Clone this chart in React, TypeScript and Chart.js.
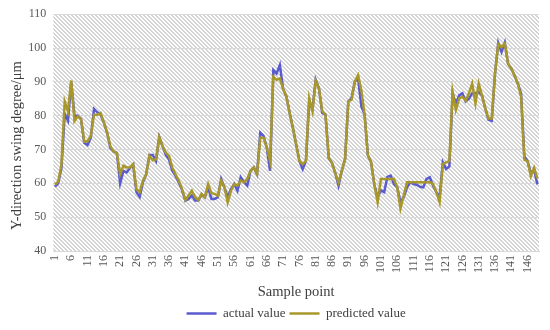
import React, { useEffect, useRef } from "react";
import { Chart, registerables } from "chart.js";

Chart.register(...registerables);

const FONT = "'Liberation Serif', 'Times New Roman', serif";

// sample indices 1..149
const sampleLabels: string[] = Array.from({ length: 149 }, (_, i) => String(i + 1));

const actualValues: number[] = [
  59.0, 60.0, 64.5, 80.5, 78.5, 90.0, 80.0, 80.0, 79.0, 72.0,
  71.3, 73.5, 82.0, 81.0, 80.3, 78.0, 75.0, 70.5, 69.4, 69.0,
  60.0, 63.7, 63.2, 64.5, 65.5, 57.4, 56.0, 60.3, 62.7, 68.4,
  68.4, 66.6, 73.7, 71.0, 68.5, 67.0, 63.7, 62.2, 60.3, 58.0,
  54.9, 55.4, 56.4, 54.9, 54.9, 56.7, 55.9, 58.8, 55.4, 55.4,
  55.9, 61.3, 58.8, 55.9, 58.3, 59.8, 57.8, 61.8, 60.3, 59.3,
  63.7, 64.7, 62.7, 75.0, 74.0, 70.5, 63.7, 93.5, 92.5, 95.0,
  87.9, 85.7, 80.8, 76.4, 71.5, 66.6, 64.2, 66.6, 84.2, 81.8,
  90.6, 88.1, 80.8, 80.3, 67.5, 66.0, 63.0, 59.3, 63.7, 67.1,
  84.2, 85.2, 90.1, 91.0, 82.8, 80.3, 68.3, 66.2, 59.5, 55.9,
  57.9, 57.4, 61.9, 62.3, 59.8, 58.8, 54.4, 55.9, 58.8, 60.3,
  59.8, 59.6, 59.0, 58.8, 61.3, 61.8, 59.3, 57.4, 55.9, 66.2,
  64.2, 65.0, 86.5, 83.6, 86.0, 86.6, 84.2, 85.0, 86.6, 86.6,
  87.0, 86.0, 82.2, 78.8, 78.5, 92.4, 101.5, 98.8, 101.6, 95.4,
  93.9, 91.9, 89.5, 86.6, 68.0, 66.5, 63.0, 64.0, 59.7,
];

const predictedValues: number[] = [
  59.6, 60.5, 65.5, 84.2, 81.3, 90.4, 78.4, 79.8, 79.0, 72.3,
  72.5, 74.0, 80.3, 80.3, 80.8, 78.0, 75.0, 71.0, 69.4, 69.0,
  62.7, 65.2, 64.7, 64.7, 65.7, 58.3, 57.4, 60.8, 62.7, 68.1,
  66.8, 67.1, 73.7, 71.0, 69.1, 68.1, 64.7, 62.7, 60.8, 58.3,
  55.1, 56.4, 57.8, 55.9, 55.1, 56.9, 55.9, 59.8, 57.1, 56.9,
  56.4, 60.8, 58.8, 54.4, 57.8, 59.8, 59.3, 60.8, 60.3, 61.3,
  63.7, 64.7, 62.7, 73.5, 73.5, 70.5, 66.6, 91.5, 90.6, 91.0,
  87.9, 85.7, 80.8, 76.4, 71.5, 66.6, 65.7, 66.6, 85.2, 81.3,
  90.4, 88.1, 81.3, 80.3, 67.5, 66.0, 63.0, 60.3, 63.7, 67.1,
  84.2, 84.7, 90.1, 92.0, 87.5, 80.3, 68.3, 66.2, 59.5, 54.4,
  61.3, 61.3, 61.3, 61.3, 61.3, 58.8, 52.5, 56.4, 60.3, 60.3,
  60.3, 60.3, 60.3, 60.3, 60.3, 60.3, 59.8, 57.4, 54.4, 65.7,
  66.2, 66.6, 87.1, 81.7, 85.1, 85.6, 84.4, 86.6, 89.5, 83.6,
  89.5, 86.0, 82.2, 79.2, 79.2, 92.4, 101.2, 100.2, 101.4, 95.4,
  93.9, 91.9, 89.5, 85.6, 67.0, 66.5, 62.1, 64.6, 61.5,
];

const Y_MIN = 40;
const Y_MAX = 110;
const Y_STEP = 10;
const LABEL_EVERY = 5;

const hatchPlugin = {
  id: "hatchBackground",
  beforeDraw(chart: any) {
    const { ctx, chartArea } = chart;
    if (!chartArea) return;
    const tile = document.createElement("canvas");
    tile.width = 4;
    tile.height = 4;
    const tc = tile.getContext("2d")!;
    tc.fillStyle = "#ffffff";
    tc.fillRect(0, 0, 4, 4);
    tc.fillStyle = "#d3d3d3";
    for (let i = 0; i < 4; i++) {
      tc.fillRect(i, i, 1, 1);
      tc.fillRect((i + 1) % 4, i, 1, 1);
    }
    const pattern = ctx.createPattern(tile, "repeat");
    ctx.save();
    ctx.fillStyle = pattern;
    ctx.fillRect(
      chartArea.left,
      chartArea.top,
      chartArea.right - chartArea.left,
      chartArea.bottom - chartArea.top
    );
    ctx.restore();
  },
};

// shift the y-axis title a little downwards along the axis, as in the reference
const yTitleShiftPlugin = {
  id: "yTitleShift",
  afterLayout(chart: any) {
    const s = chart.scales.y;
    if (!s || s.__shifted) return;
    const orig = s.drawTitle.bind(s);
    s.drawTitle = function () {
      const t = this.top;
      const b = this.bottom;
      this.top = t + 13;
      this.bottom = b + 13;
      orig();
      this.top = t;
      this.bottom = b;
    };
    s.__shifted = true;
  },
};

export default function App() {
  const canvasRef = useRef<HTMLCanvasElement | null>(null);

  useEffect(() => {
    const canvas = canvasRef.current;
    if (!canvas) return;
    const chart = new Chart(canvas, {
      type: "line",
      data: {
        labels: sampleLabels,
        datasets: [
          {
            label: "actual value",
            data: actualValues,
            borderColor: "#5b5bd0",
            backgroundColor: "#5b5bd0",
            borderWidth: 2.5,
            pointRadius: 0,
            tension: 0,
            order: 2,
          },
          {
            label: "predicted value",
            data: predictedValues,
            borderColor: "#a8982c",
            backgroundColor: "#a8982c",
            borderWidth: 2.5,
            pointRadius: 0,
            tension: 0,
            order: 1,
          },
        ],
      },
      options: {
        responsive: false,
        animation: false,
        layout: { padding: { left: 0, right: 11, top: 12, bottom: 0 } },
        plugins: {
          tooltip: { enabled: false },
          legend: {
            position: "bottom",
            fullSize: false,
            labels: {
              usePointStyle: true,
              pointStyle: "line",
              pointStyleWidth: 30,
              padding: 4,
              color: "#404040",
              font: { family: FONT, size: 13 },
              sort: (a: any, b: any) => a.datasetIndex - b.datasetIndex,
            },
          },
        },
        scales: {
          x: {
            type: "category",
            offset: true,
            grid: { display: false, drawTicks: false },
            border: { display: true, color: "#d9d9d9" },
            ticks: {
              autoSkip: false,
              minRotation: 90,
              maxRotation: 90,
              padding: 4,
              color: "#595959",
              font: { family: FONT, size: 12 },
              callback: (_v: any, i: number) =>
                i % LABEL_EVERY === 0 ? sampleLabels[i] : null,
            },
            title: {
              display: true,
              text: "Sample point",
              color: "#404040",
              font: { family: FONT, size: 14.5 },
              padding: { top: 0, bottom: 2 },
            },
            afterFit: (s: any) => {
              s.height = 52;
            },
          },
          y: {
            min: Y_MIN,
            max: Y_MAX,
            grid: { color: "#d9d9d9", drawTicks: false },
            border: { display: false },
            ticks: {
              stepSize: Y_STEP,
              padding: 7,
              color: "#595959",
              font: { family: FONT, size: 12 },
            },
            title: {
              display: true,
              text: "Y-direction swing degree/μm",
              color: "#404040",
              font: { family: FONT, size: 14.5 },
              padding: { top: 8.8, bottom: 0 },
            },
            afterFit: (s: any) => {
              s.width = 53.3;
            },
          },
        },
      },
      plugins: [hatchPlugin, yTitleShiftPlugin],
    });
    return () => chart.destroy();
  }, []);

  return (
    <div style={{ position: "absolute", left: 0, top: 0, width: 550, height: 330, background: "#fff" }}>
      <canvas ref={canvasRef} width={550} height={330} />
    </div>
  );
}
